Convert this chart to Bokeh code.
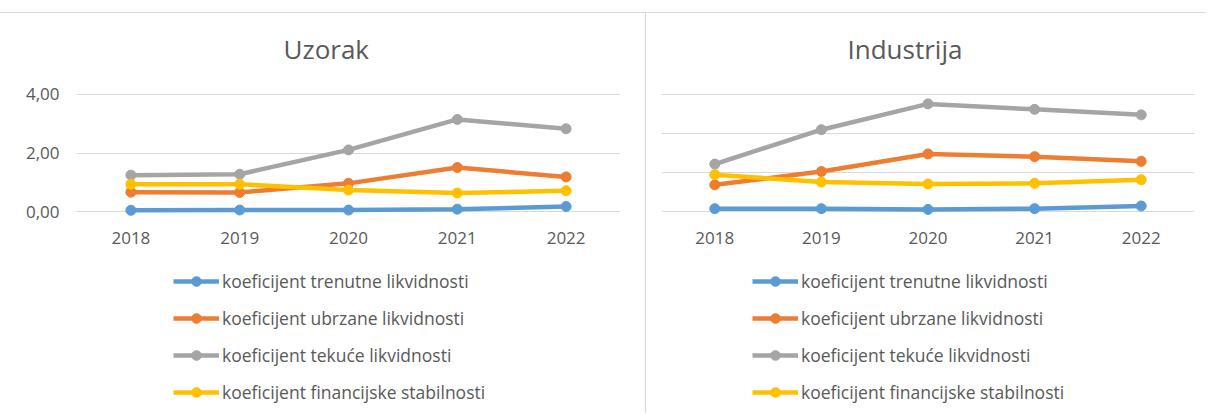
from bokeh.plotting import figure
from bokeh.models import Range1d, FixedTicker, Legend, LegendItem, Spacer, Label
from bokeh.layouts import row, column
from bokeh.embed import file_html
from bokeh.resources import INLINE

# ---- data ----
years = ["2018", "2019", "2020", "2021", "2022"]
series_names = [
    "koeficijent trenutne likvidnosti",
    "koeficijent ubrzane likvidnosti",
    "koeficijent tekuće likvidnosti",
    "koeficijent financijske stabilnosti",
]
colors = ["#5B9BD5", "#ED7D31", "#A5A5A5", "#FFC000"]

uzorak_trenutne = [0.05, 0.06, 0.06, 0.09, 0.18]
uzorak_ubrzane = [0.67, 0.66, 0.97, 1.51, 1.19]
uzorak_tekuce = [1.25, 1.28, 2.11, 3.15, 2.83]
uzorak_stabilnost = [0.94, 0.94, 0.74, 0.64, 0.72]

industrija_trenutne = [0.08, 0.08, 0.06, 0.08, 0.15]
industrija_ubrzane = [0.69, 1.03, 1.48, 1.41, 1.29]
industrija_tekuce = [1.22, 2.10, 2.76, 2.62, 2.48]
industrija_stabilnost = [0.95, 0.76, 0.71, 0.73, 0.82]

uzorak_ticks = [0, 2, 4]
uzorak_tick_labels = ["0,00", "2,00", "4,00"]
industrija_ticks = [0, 1, 2, 3]

TEXT = "#595959"
GRID = "#D9D9D9"
FONT = "Open Sans"
CHART_H = 245
LEG_H = 155
FRAME_H = 206          # frame spans from the chart top (title area included)


def style_common(p):
    p.outline_line_color = None
    p.background_fill_color = "white"
    p.border_fill_color = "white"


def make_chart(title, series, y_start, y_end, ticks, tick_labels, width,
               frame_left, border_right, title_x):
    p = figure(x_range=years, y_range=Range1d(y_start, y_end),
               width=width, height=CHART_H, output_backend="svg",
               toolbar_location=None, title=None,
               min_border_left=frame_left, min_border_right=border_right,
               min_border_top=0,
               min_border_bottom=CHART_H - FRAME_H)
    style_common(p)

    p.add_layout(Label(text=title, x=title_x, y=171,
                       x_units="screen", y_units="screen",
                       text_align="left", text_baseline="alphabetic",
                       text_font=FONT, text_font_size="26px",
                       text_color=TEXT))

    p.xgrid.grid_line_color = None
    p.yaxis.ticker = FixedTicker(ticks=ticks)
    p.ygrid.ticker = FixedTicker(ticks=ticks)
    p.ygrid.grid_line_color = GRID
    p.ygrid.grid_line_width = 1

    p.xaxis.axis_line_color = None
    p.xaxis.major_tick_line_color = None
    p.xaxis.minor_tick_line_color = None
    p.xaxis.major_label_text_font = FONT
    p.xaxis.major_label_text_font_size = "17px"
    p.xaxis.major_label_text_color = TEXT
    p.xaxis.major_label_standoff = 6

    if tick_labels is None:
        p.yaxis.visible = False
    else:
        p.yaxis.axis_line_color = None
        p.yaxis.major_tick_line_color = None
        p.yaxis.minor_tick_line_color = None
        p.yaxis.major_label_text_font = FONT
        p.yaxis.major_label_text_font_size = "17px"
        p.yaxis.major_label_text_color = TEXT
        p.yaxis.major_label_standoff = 11
        p.yaxis.major_label_overrides = {t: l for t, l in zip(ticks, tick_labels)}

    for vals, col in zip(series, colors):
        p.line(years, vals, line_color=col, line_width=4.5)
        p.scatter(years, vals, marker="circle", size=10,
                  fill_color=col, line_color=col)
    return p


def make_legend(series, width, frame_left, border_right, legend_x):
    # the series sit outside this figure's visible y range, so only the
    # legend (which samples their styles) shows
    q = figure(x_range=years, y_range=Range1d(10, 11),
               width=width, height=LEG_H, output_backend="svg",
               toolbar_location=None, x_axis_location=None,
               y_axis_location=None, title=None,
               min_border_left=frame_left, min_border_right=border_right,
               min_border_top=0, min_border_bottom=0)
    style_common(q)
    q.grid.visible = False
    items = []
    for name, vals, col in zip(series_names, series, colors):
        r1 = q.line(years, vals, line_color=col, line_width=4.5)
        r2 = q.scatter(years, vals, marker="circle", size=10,
                       fill_color=col, line_color=col)
        items.append(LegendItem(label=name, renderers=[r1, r2]))
    legend = Legend(items=items, location=(legend_x, 9),
                    orientation="vertical",
                    glyph_width=46, glyph_height=24, label_height=24,
                    spacing=13, padding=0, margin=0, label_standoff=3,
                    label_text_font=FONT, label_text_font_size="17.5px",
                    label_text_color=TEXT,
                    border_line_color=None, background_fill_alpha=0)
    q.add_layout(legend, "center")
    return q


uzorak = [uzorak_trenutne, uzorak_ubrzane, uzorak_tekuce, uzorak_stabilnost]
industrija = [industrija_trenutne, industrija_ubrzane, industrija_tekuce,
              industrija_stabilnost]

left = make_chart("Uzorak", uzorak, -0.2625, 6.762, uzorak_ticks,
                  uzorak_tick_labels, 645, 76, 25, 207)
right = make_chart("Industrija", industrija, -0.197, 5.0716, industrija_ticks,
                   None, 556, 15, 8, 186)
left_leg = make_legend(uzorak, 645, 76, 25, 97)
right_leg = make_legend(industrija, 556, 15, 8, 91)

top_gap = Spacer(width=1206, height=12)
top_line = Spacer(width=1206, height=1, styles={"background-color": GRID})
divider = Spacer(width=1, height=CHART_H + LEG_H,
                 styles={"background-color": GRID})

layout = column(top_gap, top_line,
                row(column(left, left_leg), divider, column(right, right_leg)))

open("out.html", "w").write(file_html(layout, INLINE))
